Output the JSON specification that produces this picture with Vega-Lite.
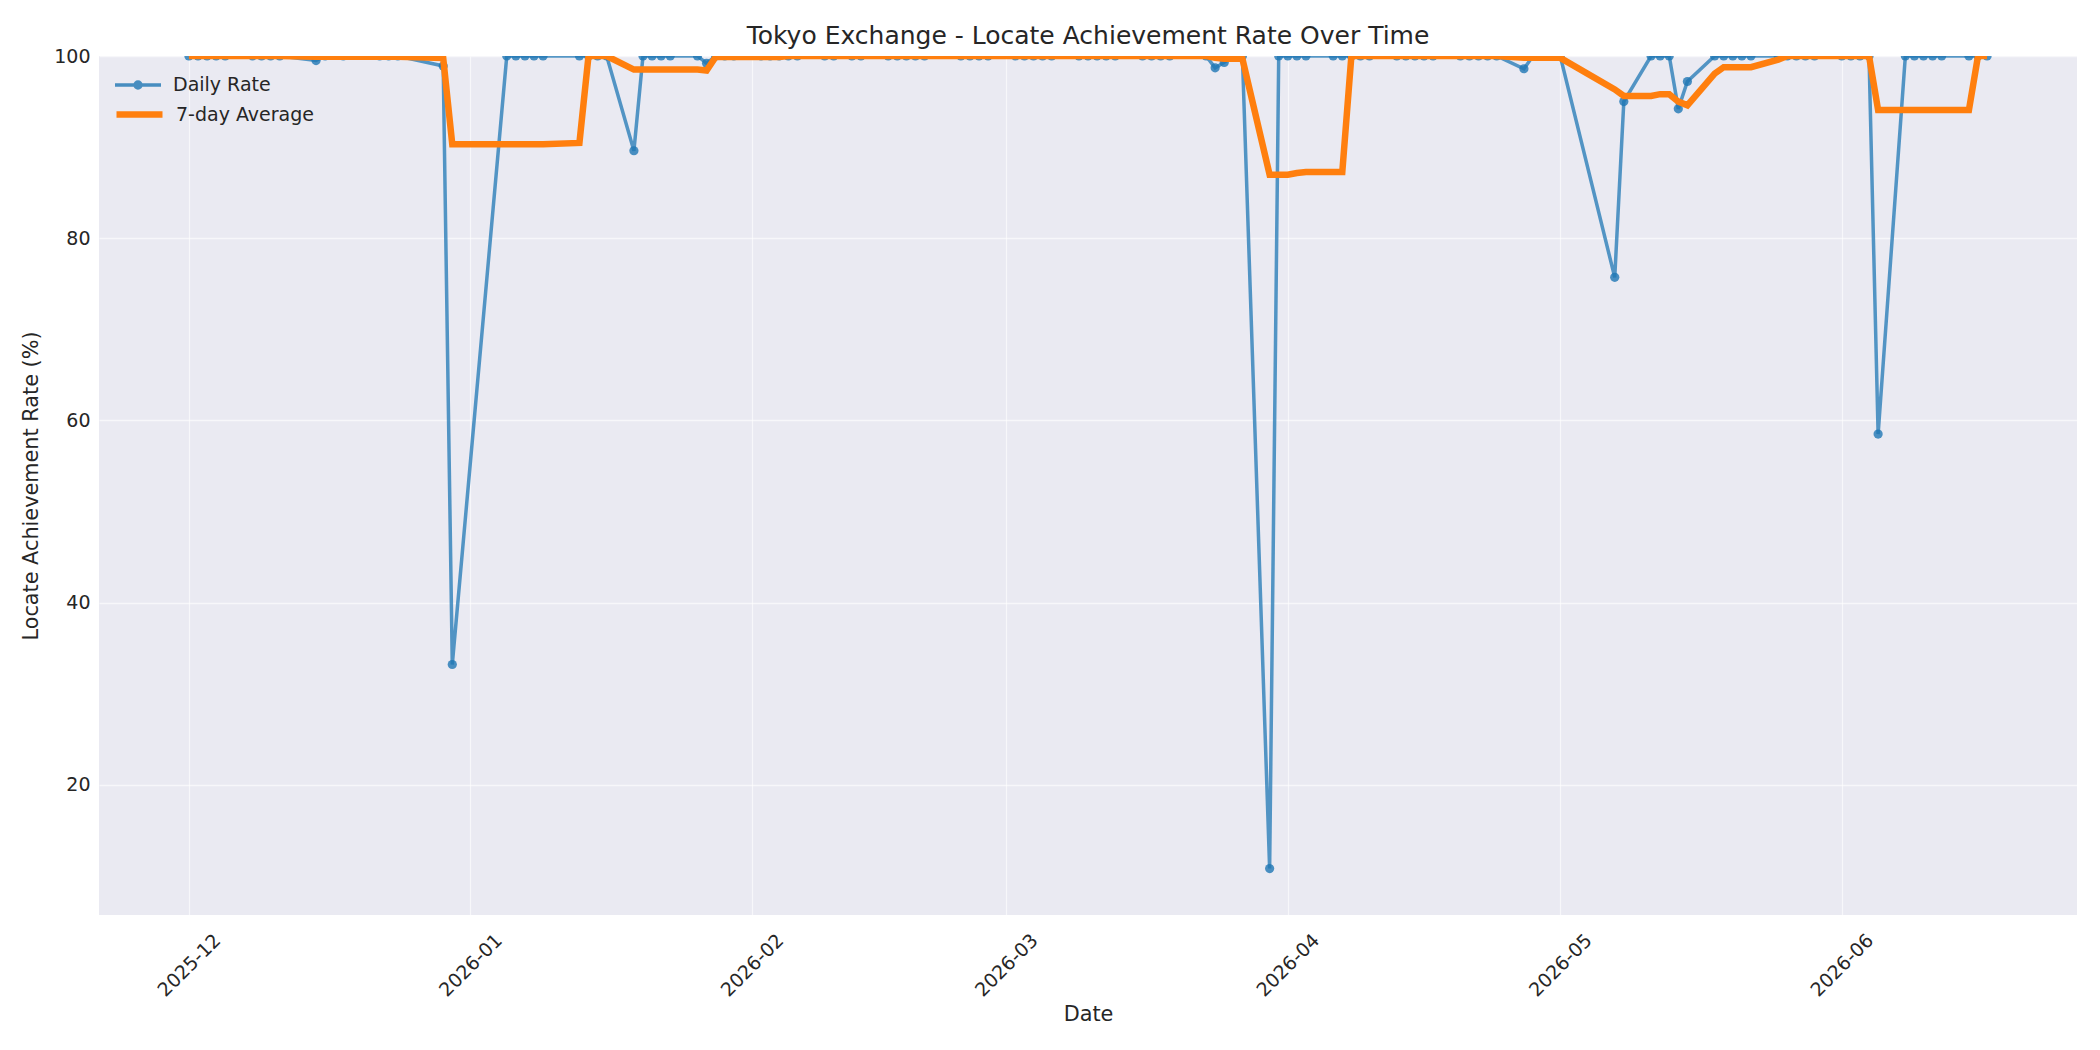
{
  "$schema": "https://vega.github.io/schema/vega-lite/v6.json",
  "width": 1978,
  "height": 859,
  "autosize": {"type": "none"},
  "padding": {"left": 99, "top": 56, "right": 23, "bottom": 135},
  "background": "white",
  "config": {
    "font": "DejaVu Sans",
    "view": {"fill": "#EAEAF2", "stroke": null},
    "axis": {
      "domain": false, "ticks": false, "tickSize": 0,
      "gridColor": "#FFFFFF", "gridWidth": 1.3, "gridOpacity": 0.6,
      "labelColor": "#262626", "titleColor": "#262626",
      "labelFontSize": 19, "titleFontSize": 20.8, "titleFontWeight": "normal",
      "labelFont": "DejaVu Sans", "titleFont": "DejaVu Sans"
    }
  },
  "title": {"text": "Tokyo Exchange - Locate Achievement Rate Over Time", "fontSize": 25, "fontWeight": "normal", "color": "#262626", "offset": -2, "anchor": "middle", "font": "DejaVu Sans"},
  "data": {"values": [
    {"date": "2025-12-01", "daily": 100, "avg": 100},
    {"date": "2025-12-02", "daily": 100, "avg": 100},
    {"date": "2025-12-03", "daily": 100, "avg": 100},
    {"date": "2025-12-04", "daily": 100, "avg": 100},
    {"date": "2025-12-05", "daily": 100, "avg": 100},
    {"date": "2025-12-08", "daily": 100, "avg": 100},
    {"date": "2025-12-09", "daily": 100, "avg": 100},
    {"date": "2025-12-10", "daily": 100, "avg": 100},
    {"date": "2025-12-11", "daily": 100, "avg": 100},
    {"date": "2025-12-15", "daily": 99.5, "avg": 99.93},
    {"date": "2025-12-16", "daily": 100, "avg": 99.93},
    {"date": "2025-12-18", "daily": 100, "avg": 99.93},
    {"date": "2025-12-22", "daily": 100, "avg": 99.93},
    {"date": "2025-12-23", "daily": 100, "avg": 99.93},
    {"date": "2025-12-24", "daily": 100, "avg": 99.93},
    {"date": "2025-12-29", "daily": 98.9, "avg": 99.77},
    {"date": "2025-12-30", "daily": 33.2, "avg": 90.30},
    {"date": "2026-01-05", "daily": 100, "avg": 90.30},
    {"date": "2026-01-06", "daily": 100, "avg": 90.30},
    {"date": "2026-01-07", "daily": 100, "avg": 90.30},
    {"date": "2026-01-08", "daily": 100, "avg": 90.30},
    {"date": "2026-01-09", "daily": 100, "avg": 90.30},
    {"date": "2026-01-13", "daily": 100, "avg": 90.46},
    {"date": "2026-01-14", "daily": 100, "avg": 100},
    {"date": "2026-01-15", "daily": 100, "avg": 100},
    {"date": "2026-01-16", "daily": 100, "avg": 100},
    {"date": "2026-01-19", "daily": 89.6, "avg": 98.51},
    {"date": "2026-01-20", "daily": 100, "avg": 98.51},
    {"date": "2026-01-21", "daily": 100, "avg": 98.51},
    {"date": "2026-01-22", "daily": 100, "avg": 98.51},
    {"date": "2026-01-23", "daily": 100, "avg": 98.51},
    {"date": "2026-01-26", "daily": 100, "avg": 98.51},
    {"date": "2026-01-27", "daily": 99.2, "avg": 98.40},
    {"date": "2026-01-28", "daily": 100, "avg": 99.89},
    {"date": "2026-01-29", "daily": 100, "avg": 99.89},
    {"date": "2026-01-30", "daily": 100, "avg": 99.89},
    {"date": "2026-02-02", "daily": 100, "avg": 99.89},
    {"date": "2026-02-03", "daily": 100, "avg": 99.89},
    {"date": "2026-02-04", "daily": 100, "avg": 99.89},
    {"date": "2026-02-05", "daily": 100, "avg": 100},
    {"date": "2026-02-06", "daily": 100, "avg": 100},
    {"date": "2026-02-09", "daily": 100, "avg": 100},
    {"date": "2026-02-10", "daily": 100, "avg": 100},
    {"date": "2026-02-12", "daily": 100, "avg": 100},
    {"date": "2026-02-13", "daily": 100, "avg": 100},
    {"date": "2026-02-16", "daily": 100, "avg": 100},
    {"date": "2026-02-17", "daily": 100, "avg": 100},
    {"date": "2026-02-18", "daily": 100, "avg": 100},
    {"date": "2026-02-19", "daily": 100, "avg": 100},
    {"date": "2026-02-20", "daily": 100, "avg": 100},
    {"date": "2026-02-24", "daily": 100, "avg": 100},
    {"date": "2026-02-25", "daily": 100, "avg": 100},
    {"date": "2026-02-26", "daily": 100, "avg": 100},
    {"date": "2026-02-27", "daily": 100, "avg": 100},
    {"date": "2026-03-02", "daily": 100, "avg": 100},
    {"date": "2026-03-03", "daily": 100, "avg": 100},
    {"date": "2026-03-04", "daily": 100, "avg": 100},
    {"date": "2026-03-05", "daily": 100, "avg": 100},
    {"date": "2026-03-06", "daily": 100, "avg": 100},
    {"date": "2026-03-09", "daily": 100, "avg": 100},
    {"date": "2026-03-10", "daily": 100, "avg": 100},
    {"date": "2026-03-11", "daily": 100, "avg": 100},
    {"date": "2026-03-12", "daily": 100, "avg": 100},
    {"date": "2026-03-13", "daily": 100, "avg": 100},
    {"date": "2026-03-16", "daily": 100, "avg": 100},
    {"date": "2026-03-17", "daily": 100, "avg": 100},
    {"date": "2026-03-18", "daily": 100, "avg": 100},
    {"date": "2026-03-19", "daily": 100, "avg": 100},
    {"date": "2026-03-23", "daily": 100, "avg": 100},
    {"date": "2026-03-24", "daily": 98.7, "avg": 99.81},
    {"date": "2026-03-25", "daily": 99.3, "avg": 99.71},
    {"date": "2026-03-26", "daily": 100, "avg": 99.71},
    {"date": "2026-03-27", "daily": 100, "avg": 99.71},
    {"date": "2026-03-30", "daily": 10.8, "avg": 86.97},
    {"date": "2026-03-31", "daily": 100, "avg": 86.97},
    {"date": "2026-04-01", "daily": 100, "avg": 86.97},
    {"date": "2026-04-02", "daily": 100, "avg": 87.16},
    {"date": "2026-04-03", "daily": 100, "avg": 87.26},
    {"date": "2026-04-06", "daily": 100, "avg": 87.26},
    {"date": "2026-04-07", "daily": 100, "avg": 87.26},
    {"date": "2026-04-08", "daily": 100, "avg": 100},
    {"date": "2026-04-09", "daily": 100, "avg": 100},
    {"date": "2026-04-10", "daily": 100, "avg": 100},
    {"date": "2026-04-13", "daily": 100, "avg": 100},
    {"date": "2026-04-14", "daily": 100, "avg": 100},
    {"date": "2026-04-15", "daily": 100, "avg": 100},
    {"date": "2026-04-16", "daily": 100, "avg": 100},
    {"date": "2026-04-17", "daily": 100, "avg": 100},
    {"date": "2026-04-20", "daily": 100, "avg": 100},
    {"date": "2026-04-21", "daily": 100, "avg": 100},
    {"date": "2026-04-22", "daily": 100, "avg": 100},
    {"date": "2026-04-23", "daily": 100, "avg": 100},
    {"date": "2026-04-24", "daily": 100, "avg": 100},
    {"date": "2026-04-27", "daily": 98.6, "avg": 99.80},
    {"date": "2026-04-28", "daily": 100, "avg": 99.80},
    {"date": "2026-04-30", "daily": 100, "avg": 99.80},
    {"date": "2026-05-01", "daily": 100, "avg": 99.80},
    {"date": "2026-05-07", "daily": 75.7, "avg": 96.33},
    {"date": "2026-05-08", "daily": 95.0, "avg": 95.61},
    {"date": "2026-05-11", "daily": 100, "avg": 95.61},
    {"date": "2026-05-12", "daily": 100, "avg": 95.81},
    {"date": "2026-05-13", "daily": 100, "avg": 95.81},
    {"date": "2026-05-14", "daily": 94.2, "avg": 94.99},
    {"date": "2026-05-15", "daily": 97.2, "avg": 94.59},
    {"date": "2026-05-18", "daily": 100, "avg": 98.06},
    {"date": "2026-05-19", "daily": 100, "avg": 98.77},
    {"date": "2026-05-20", "daily": 100, "avg": 98.77},
    {"date": "2026-05-21", "daily": 100, "avg": 98.77},
    {"date": "2026-05-22", "daily": 100, "avg": 98.77},
    {"date": "2026-05-25", "daily": 100, "avg": 99.60},
    {"date": "2026-05-26", "daily": 100, "avg": 100},
    {"date": "2026-05-27", "daily": 100, "avg": 100},
    {"date": "2026-05-28", "daily": 100, "avg": 100},
    {"date": "2026-05-29", "daily": 100, "avg": 100},
    {"date": "2026-06-01", "daily": 100, "avg": 100},
    {"date": "2026-06-02", "daily": 100, "avg": 100},
    {"date": "2026-06-03", "daily": 100, "avg": 100},
    {"date": "2026-06-04", "daily": 100, "avg": 100},
    {"date": "2026-06-05", "daily": 58.5, "avg": 94.07},
    {"date": "2026-06-08", "daily": 100, "avg": 94.07},
    {"date": "2026-06-09", "daily": 100, "avg": 94.07},
    {"date": "2026-06-10", "daily": 100, "avg": 94.07},
    {"date": "2026-06-11", "daily": 100, "avg": 94.07},
    {"date": "2026-06-12", "daily": 100, "avg": 94.07},
    {"date": "2026-06-15", "daily": 100, "avg": 94.07},
    {"date": "2026-06-16", "daily": 100, "avg": 100},
    {"date": "2026-06-17", "daily": 100, "avg": 100}
  ]},
  "encoding": {
    "x": {
      "field": "date", "type": "temporal",
      "scale": {"type": "utc", "domain": [1763691840000, 1782509760000]},
      "axis": {
        "title": "Date",
        "labelExpr": "utcFormat(datum.value, '%Y-%m')",
        "tickCount": {"interval": "month", "step": 1},
        "labelAngle": -45, "labelAlign": "center", "labelBaseline": "middle",
        "labelPadding": 50, "titlePadding": 4
      }
    }
  },
  "layer": [
    {
      "mark": {"type": "line", "strokeWidth": 3.5, "opacity": 0.75, "clip": true},
      "encoding": {
        "y": {"field": "daily", "type": "quantitative", "scale": {"domain": [5.7, 100], "nice": false, "zero": false},
              "axis": {"title": "Locate Achievement Rate (%)", "values": [20, 40, 60, 80, 100], "labelPadding": 9, "titlePadding": 12}},
        "color": {"datum": "Daily Rate", "type": "nominal",
          "scale": {"domain": ["Daily Rate"], "range": ["#1f77b4"]},
          "legend": {
            "title": null, "orient": "none", "legendX": 14, "legendY": 4, "padding": 0,
            "labelFontSize": 19, "labelColor": "#262626", "labelOffset": 10,
            "symbolSize": 2116,
            "symbolType": "M-1,0H1M-0.13,0A0.13,0.13,0,1,0,0.13,0A0.13,0.13,0,1,0,-0.13,0Z",
            "symbolStrokeWidth": 3.5, "symbolOpacity": 0.8
          }}
      }
    },
    {
      "mark": {"type": "point", "filled": true, "size": 85, "opacity": 0.8, "clip": true},
      "encoding": {
        "y": {"field": "daily", "type": "quantitative", "scale": {"domain": [5.7, 100], "nice": false, "zero": false}, "axis": {"title": "Locate Achievement Rate (%)"}},
        "color": {"datum": "Daily Rate", "type": "nominal",
          "legend": {
            "title": null, "orient": "none", "legendX": 14, "legendY": 4, "padding": 0,
            "labelFontSize": 19, "labelColor": "#262626", "labelOffset": 10,
            "symbolSize": 2116,
            "symbolType": "M-1,0H1M-0.13,0A0.13,0.13,0,1,0,0.13,0A0.13,0.13,0,1,0,-0.13,0Z",
            "symbolStrokeWidth": 3.5, "symbolOpacity": 0.8
          }}
      }
    },
    {
      "mark": {"type": "line", "strokeWidth": 6.5, "clip": true},
      "encoding": {
        "y": {"field": "avg", "type": "quantitative", "scale": {"domain": [5.7, 100], "nice": false, "zero": false}, "axis": {"title": "Locate Achievement Rate (%)"}},
        "stroke": {"datum": "7-day Average", "type": "nominal",
          "scale": {"domain": ["7-day Average"], "range": ["#ff7f0e"]},
          "legend": {
            "title": null, "orient": "none", "legendX": 14, "legendY": 32, "padding": 0,
            "labelFontSize": 19, "labelColor": "#262626", "labelOffset": 10,
            "symbolSize": 2116, "symbolType": "stroke", "symbolStrokeWidth": 6.5
          }}
      }
    }
  ]
}
